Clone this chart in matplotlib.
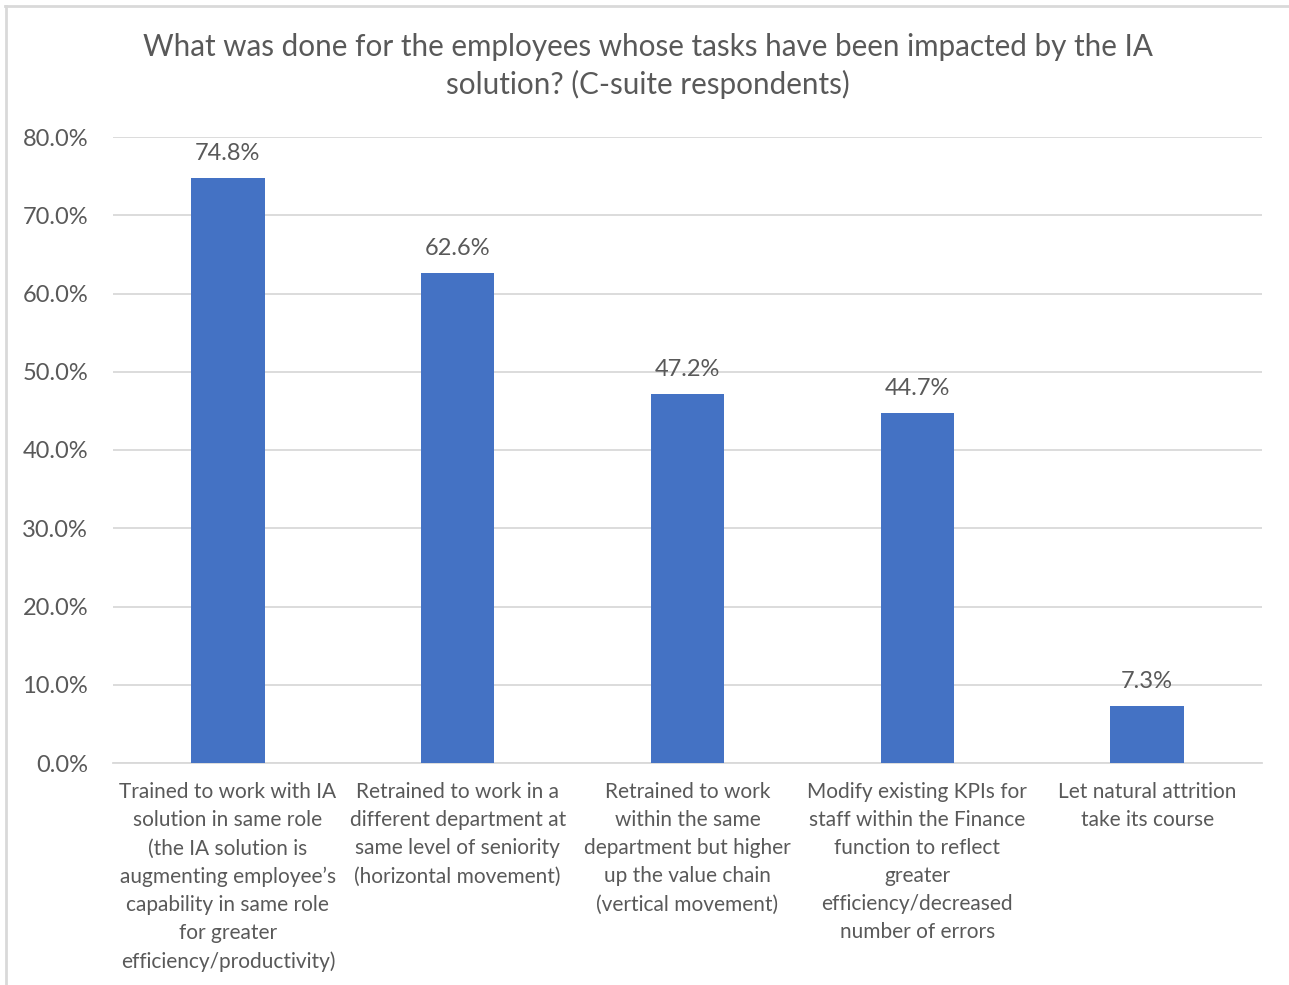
import matplotlib.pyplot as plt
from matplotlib.lines import Line2D

plt.rcParams['font.family'] = ['Lato', 'DejaVu Sans']

# survey answers and share of C-suite respondents (%)
categories = [
    "Trained to work with IA\nsolution in same role\n(the IA solution is\naugmenting employee\u2019s\ncapability in same role\nfor greater\nefficiency/productivity)",
    "Retrained to work in a\ndifferent department at\nsame level of seniority\n(horizontal movement)",
    "Retrained to work\nwithin the same\ndepartment but higher\nup the value chain\n(vertical movement)",
    "Modify existing KPIs for\nstaff within the Finance\nfunction to reflect\ngreater\nefficiency/decreased\nnumber of errors",
    "Let natural attrition\ntake its course",
]
values = [74.8, 62.6, 47.2, 44.7, 7.3]
yticks = [0, 10, 20, 30, 40, 50, 60, 70, 80]

TEXT = "#595959"
GRID = "#D9D9D9"
BLUE = "#4472C4"

W, H = 1289, 985
fig = plt.figure(figsize=(W / 100, H / 100), dpi=100)

# chart area frame (top and left edges only show)
fig.add_artist(Line2D([5 / W, 1.0], [1 - 5.5 / H, 1 - 5.5 / H], color=GRID, lw=2))
fig.add_artist(Line2D([5.5 / W, 5.5 / W], [0, 1 - 5.5 / H], color=GRID, lw=2))

ax = fig.add_axes([113 / W, (H - 763) / H, (1262 - 113) / W, (763 - 137) / H])
x = range(len(values))
bars = ax.bar(x, values, width=0.32, color=BLUE, zorder=3)

ax.set_xlim(-0.5, len(values) - 0.5)
ax.set_ylim(0, 80)
ax.set_yticks(yticks)
ax.set_yticklabels([f"{v:.1f}%" for v in yticks])
ax.yaxis.grid(True, color=GRID, lw=1.3, zorder=0)
ax.set_axisbelow(True)
for s in ["top", "right", "left"]:
    ax.spines[s].set_visible(False)
ax.spines["bottom"].set_color(GRID)
ax.spines["bottom"].set_linewidth(1.3)

ax.set_xticks(list(x))
ax.set_xticklabels(categories, fontsize=15, color=TEXT, linespacing=1.5,
                   ha="center", va="top")
ax.tick_params(axis="x", length=0, pad=14)
ax.tick_params(axis="y", length=0, pad=18, labelsize=17, labelcolor=TEXT)

for b, v in zip(bars, values):
    ax.annotate(f"{v:.1f}%", (b.get_x() + b.get_width() / 2, v),
                xytext=(0, 10), textcoords="offset points",
                ha="center", va="bottom", fontsize=17, color=TEXT)

fig.text(648 / W, 1 - 66 / H,
         "What was done for the employees whose tasks have been impacted by the IA\nsolution? (C-suite respondents)",
         ha="center", va="center", fontsize=21.3, color=TEXT, linespacing=1.4)

fig.savefig("out.png", dpi=100)
